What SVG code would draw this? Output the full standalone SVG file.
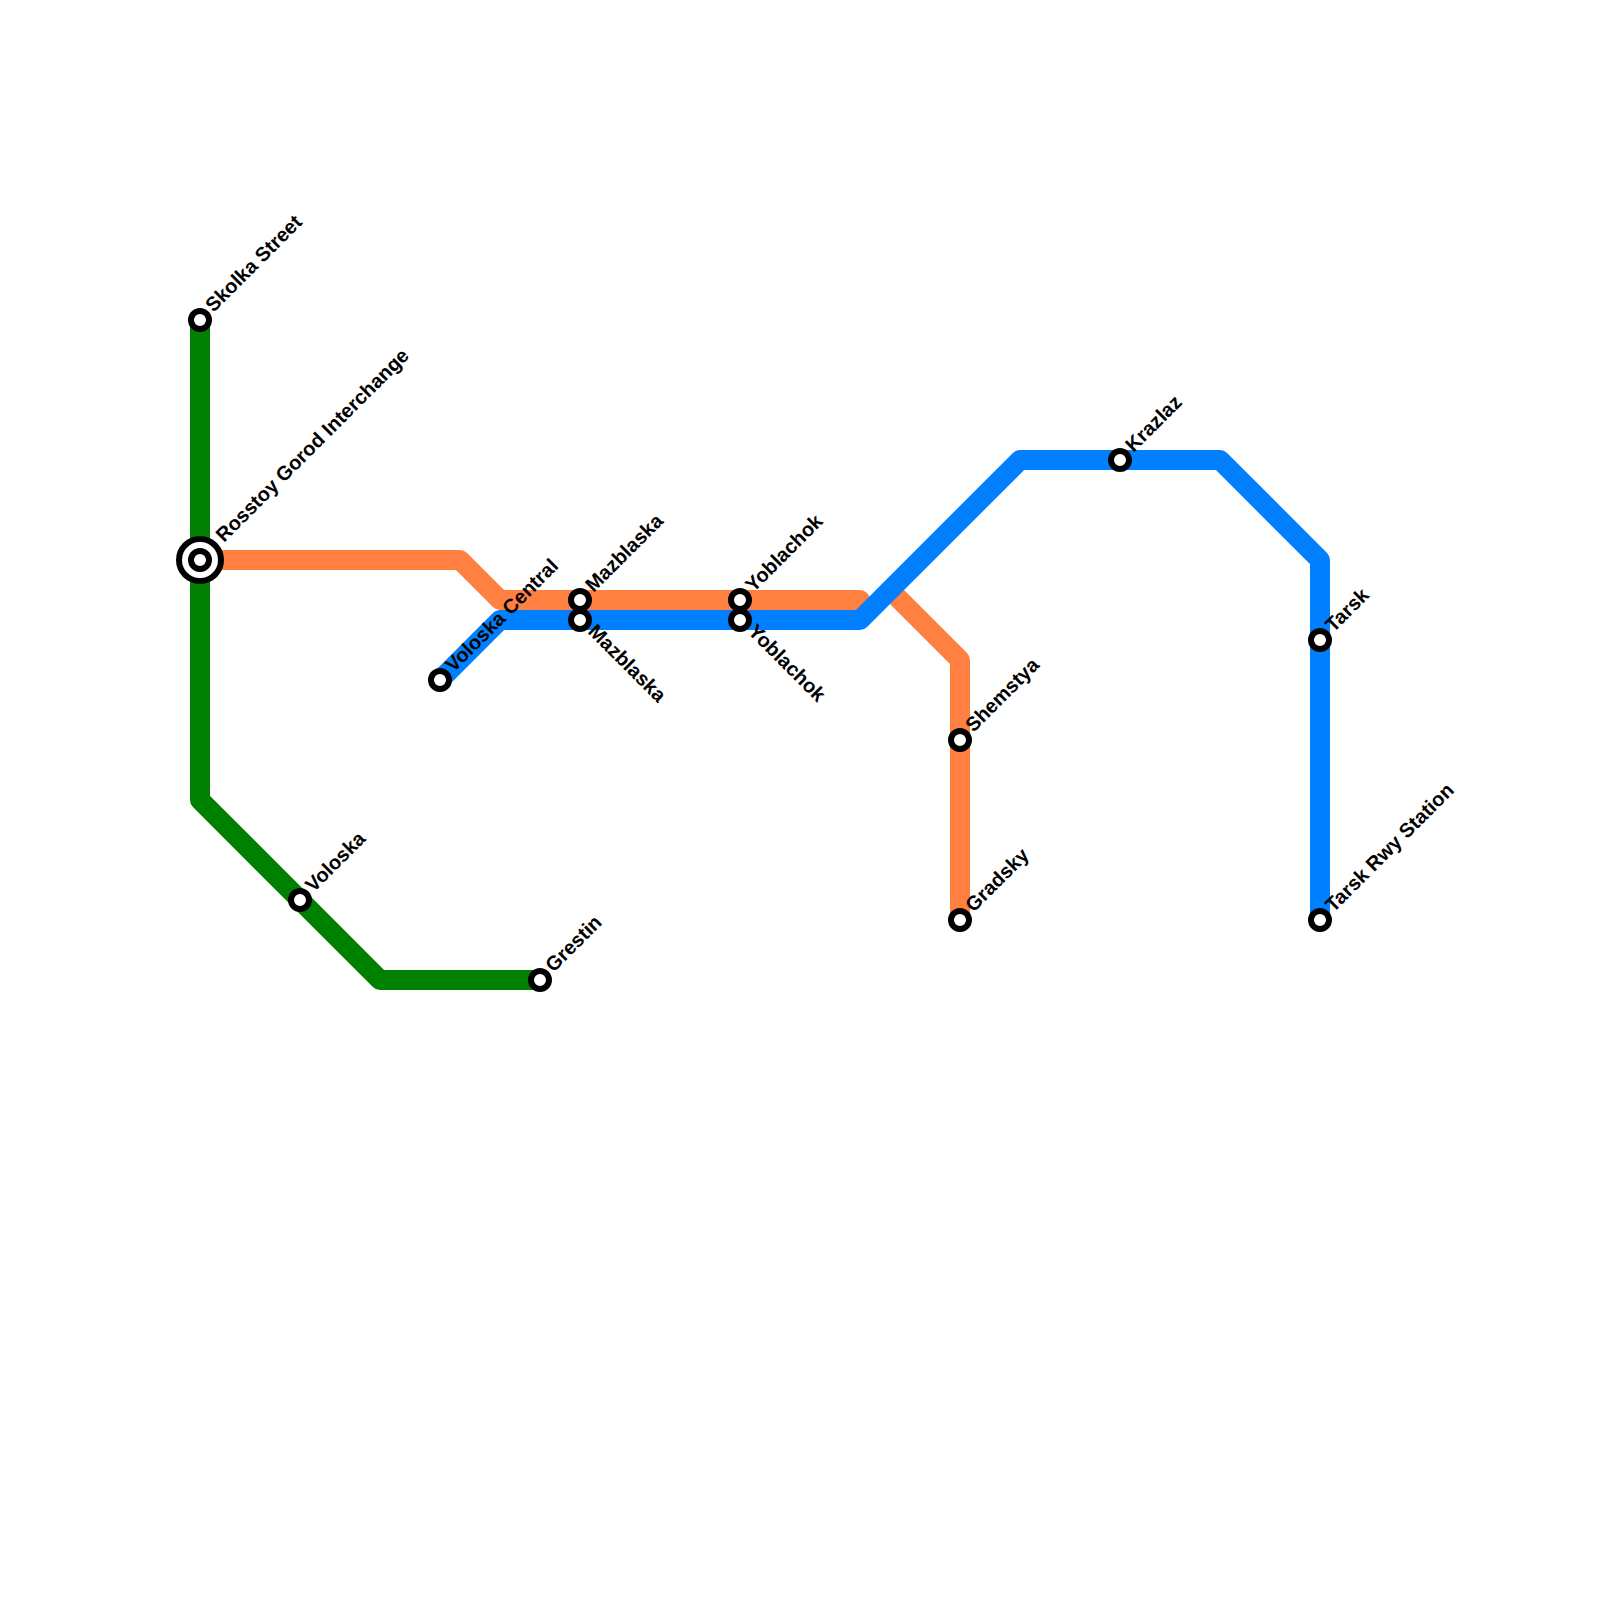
<svg xmlns="http://www.w3.org/2000/svg" width="1600" height="1600" viewBox="0 0 1600 1600">
<style>
.l{fill:none;stroke-width:20;stroke-linejoin:round;stroke-linecap:round}
.s{fill:#fff;stroke:#000;stroke-width:6}
text{font-family:"Liberation Sans",Arial,sans-serif;font-weight:bold;font-size:20px;fill:#000}
</style>
<rect width="1600" height="1600" fill="#fff"/>
<g id="connectors">
<path class="l" stroke="#008000" d="M200 320V800L380 980H540"/>
<path class="l" stroke="#ff8040" d="M200 560H460L500 600H860M890 590L960 660V920"/>
<path class="l" stroke="#0080ff" d="M440 680L500 620H860L1020 460H1220L1320 560V920"/>
</g>
<g id="skolka"><circle class="s" cx="200" cy="320" r="9"/><text transform="translate(213.5 313) rotate(-45)">Skolka Street</text></g>
<g id="rosstoy"><circle class="s" cx="200" cy="560" r="21"/><circle class="s" cx="200" cy="560" r="9"/><text transform="translate(224 543) rotate(-45)">Rosstoy Gorod Interchange</text></g>
<g id="voloska"><circle class="s" cx="300" cy="900" r="9"/><text transform="translate(313.5 893) rotate(-45)">Voloska</text></g>
<g id="grestin"><circle class="s" cx="540" cy="980" r="9"/><text transform="translate(553.5 973) rotate(-45)">Grestin</text></g>
<g id="voloska-central"><circle class="s" cx="440" cy="680" r="9"/><text transform="translate(453.5 673) rotate(-45)">Voloska Central</text></g>
<g id="mazblaska-1"><circle class="s" cx="580" cy="600" r="9"/><text transform="translate(593.5 593) rotate(-45)">Mazblaska</text></g>
<g id="mazblaska-2"><circle class="s" cx="580" cy="620" r="9"/><text transform="translate(587 632.5) rotate(45)">Mazblaska</text></g>
<g id="yoblachok-1"><circle class="s" cx="740" cy="600" r="9"/><text transform="translate(753.5 593) rotate(-45)">Yoblachok</text></g>
<g id="yoblachok-2"><circle class="s" cx="740" cy="620" r="9"/><text transform="translate(747 632.5) rotate(45)">Yoblachok</text></g>
<g id="shemstya"><circle class="s" cx="960" cy="740" r="9"/><text transform="translate(973.5 733) rotate(-45)">Shemstya</text></g>
<g id="gradsky"><circle class="s" cx="960" cy="920" r="9"/><text transform="translate(973.5 913) rotate(-45)">Gradsky</text></g>
<g id="krazlaz"><circle class="s" cx="1120" cy="460" r="9"/><text transform="translate(1133.5 453) rotate(-45)">Krazlaz</text></g>
<g id="tarsk"><circle class="s" cx="1320" cy="640" r="9"/><text transform="translate(1333.5 633) rotate(-45)">Tarsk</text></g>
<g id="tarsk-rwy"><circle class="s" cx="1320" cy="920" r="9"/><text transform="translate(1333.5 913) rotate(-45)">Tarsk Rwy Station</text></g>
</svg>
